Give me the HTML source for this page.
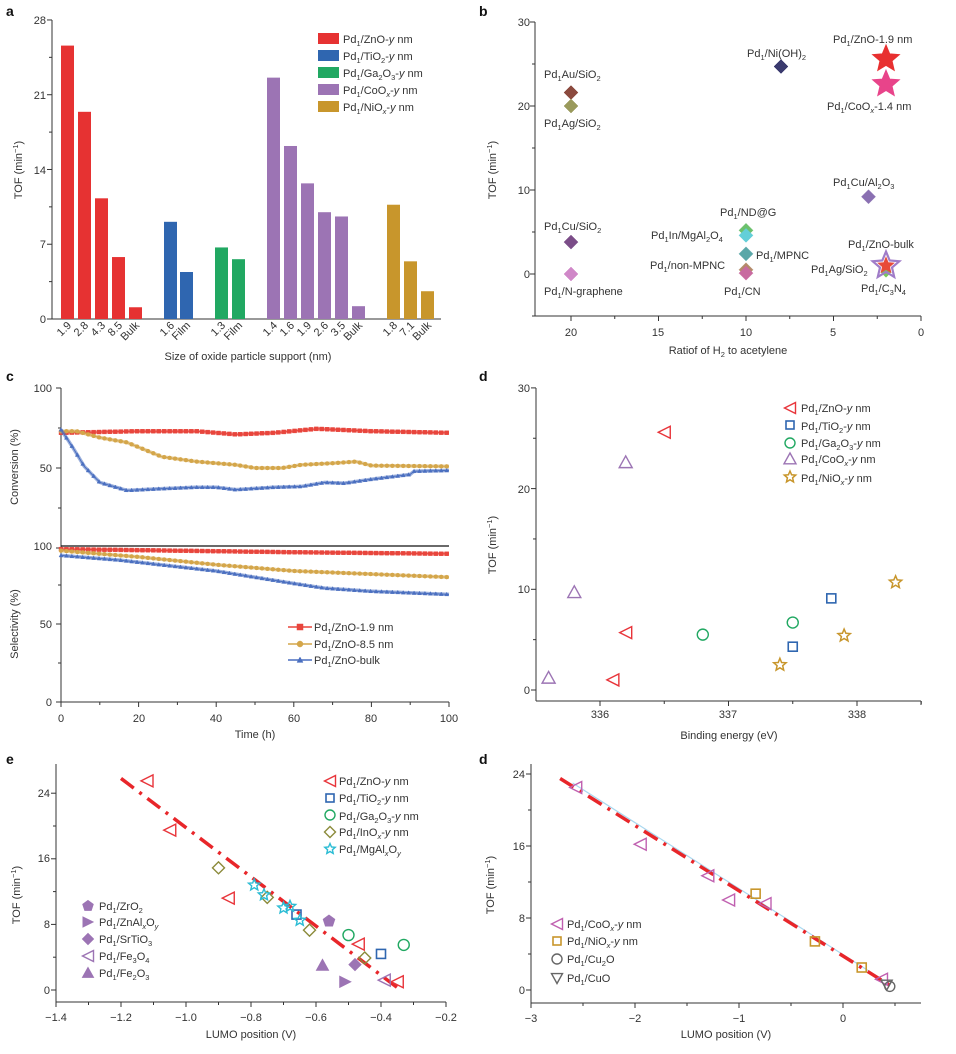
<!DOCTYPE html>
<html><head><meta charset="utf-8"><style>
html,body{margin:0;padding:0;background:#fff}
svg{display:block;font-family:"Liberation Sans",Arial,sans-serif;}
.t{font-size:11px;fill:#333}
.s{font-size:7.5px}
.L{font-size:14px;font-weight:bold;fill:#111}
.ax{stroke:#333;stroke-width:1;fill:none}
</style></head><body>
<svg id="c" width="956" height="1054" viewBox="0 0 956 1054" xmlns="http://www.w3.org/2000/svg">
<g id="g"></g>
<!-- panel letters -->
<text class="L" x="6" y="16">a</text>
<text class="L" x="479" y="16">b</text>
<text class="L" x="6" y="381">c</text>
<text class="L" x="479" y="381">d</text>
<text class="L" x="6" y="764">e</text>
<text class="L" x="479" y="764">d</text>

<!-- Panel a text -->
<g class="t" text-anchor="end">
<text x="46" y="24">28</text><text x="46" y="99">21</text><text x="46" y="174">14</text><text x="46" y="248">7</text><text x="46" y="323">0</text>
</g>
<text class="t" transform="translate(22,170) rotate(-90)" text-anchor="middle">TOF (min<tspan dy="-4" class="s">−1</tspan><tspan dy="4">)</tspan></text>
<text class="t" x="248" y="360" text-anchor="middle">Size of oxide particle support (nm)</text>
<g class="t" text-anchor="end">
<text transform="translate(72,326) rotate(-45)">1.9</text>
<text transform="translate(89,326) rotate(-45)">2.8</text>
<text transform="translate(106,326) rotate(-45)">4.3</text>
<text transform="translate(123,326) rotate(-45)">8.5</text>
<text transform="translate(140,326) rotate(-45)">Bulk</text>
<text transform="translate(175,326) rotate(-45)">1.6</text>
<text transform="translate(191,326) rotate(-45)">Film</text>
<text transform="translate(226,326) rotate(-45)">1.3</text>
<text transform="translate(243,326) rotate(-45)">Film</text>
<text transform="translate(278,326) rotate(-45)">1.4</text>
<text transform="translate(295,326) rotate(-45)">1.6</text>
<text transform="translate(312,326) rotate(-45)">1.9</text>
<text transform="translate(329,326) rotate(-45)">2.6</text>
<text transform="translate(346,326) rotate(-45)">3.5</text>
<text transform="translate(363,326) rotate(-45)">Bulk</text>
<text transform="translate(398,326) rotate(-45)">1.8</text>
<text transform="translate(415,326) rotate(-45)">7.1</text>
<text transform="translate(432,326) rotate(-45)">Bulk</text>
</g>
<g class="t">
<rect x="318" y="33" width="21" height="11" fill="#e63232"/><text x="343" y="43">Pd<tspan class="s" dy="3">1</tspan><tspan dy="-3">/ZnO-</tspan><tspan font-style="italic">y</tspan> nm</text>
<rect x="318" y="50" width="21" height="11" fill="#2f66b0"/><text x="343" y="60">Pd<tspan class="s" dy="3">1</tspan><tspan dy="-3">/TiO</tspan><tspan class="s" dy="3">2</tspan><tspan dy="-3">-</tspan><tspan font-style="italic">y</tspan> nm</text>
<rect x="318" y="67" width="21" height="11" fill="#21a862"/><text x="343" y="77">Pd<tspan class="s" dy="3">1</tspan><tspan dy="-3">/Ga</tspan><tspan class="s" dy="3">2</tspan><tspan dy="-3">O</tspan><tspan class="s" dy="3">3</tspan><tspan dy="-3">-</tspan><tspan font-style="italic">y</tspan> nm</text>
<rect x="318" y="84" width="21" height="11" fill="#9c74b4"/><text x="343" y="94">Pd<tspan class="s" dy="3">1</tspan><tspan dy="-3">/CoO</tspan><tspan class="s" dy="3" font-style="italic">x</tspan><tspan dy="-3">-</tspan><tspan font-style="italic">y</tspan> nm</text>
<rect x="318" y="101" width="21" height="11" fill="#c8962c"/><text x="343" y="111">Pd<tspan class="s" dy="3">1</tspan><tspan dy="-3">/NiO</tspan><tspan class="s" dy="3" font-style="italic">x</tspan><tspan dy="-3">-</tspan><tspan font-style="italic">y</tspan> nm</text>
</g>

<!-- Panel b text -->
<g class="t" text-anchor="end">
<text x="530" y="26">30</text><text x="530" y="110">20</text><text x="530" y="194">10</text><text x="530" y="278">0</text>
</g>
<g class="t" text-anchor="middle">
<text x="571" y="336">20</text><text x="658" y="336">15</text><text x="746" y="336">10</text><text x="833" y="336">5</text><text x="921" y="336">0</text>
<text x="728" y="354">Ratiof of H<tspan class="s" dy="3">2</tspan><tspan dy="-3"> to acetylene</tspan></text>
</g>
<text class="t" transform="translate(496,170) rotate(-90)" text-anchor="middle">TOF (min<tspan dy="-4" class="s">−1</tspan><tspan dy="4">)</tspan></text>
<g class="t">
<text x="833" y="43">Pd<tspan class="s" dy="3">1</tspan><tspan dy="-3">/ZnO-1.9 nm</tspan></text>
<text x="747" y="57">Pd<tspan class="s" dy="3">1</tspan><tspan dy="-3">/Ni(OH)</tspan><tspan class="s" dy="3">2</tspan></text>
<text x="544" y="78">Pd<tspan class="s" dy="3">1</tspan><tspan dy="-3">Au/SiO</tspan><tspan class="s" dy="3">2</tspan></text>
<text x="544" y="127">Pd<tspan class="s" dy="3">1</tspan><tspan dy="-3">Ag/SiO</tspan><tspan class="s" dy="3">2</tspan></text>
<text x="827" y="110">Pd<tspan class="s" dy="3">1</tspan><tspan dy="-3">/CoO</tspan><tspan class="s" dy="3" font-style="italic">x</tspan><tspan dy="-3">-1.4 nm</tspan></text>
<text x="833" y="186">Pd<tspan class="s" dy="3">1</tspan><tspan dy="-3">Cu/Al</tspan><tspan class="s" dy="3">2</tspan><tspan dy="-3">O</tspan><tspan class="s" dy="3">3</tspan></text>
<text x="720" y="216">Pd<tspan class="s" dy="3">1</tspan><tspan dy="-3">/ND@G</tspan></text>
<text x="544" y="230">Pd<tspan class="s" dy="3">1</tspan><tspan dy="-3">Cu/SiO</tspan><tspan class="s" dy="3">2</tspan></text>
<text x="651" y="239">Pd<tspan class="s" dy="3">1</tspan><tspan dy="-3">In/MgAl</tspan><tspan class="s" dy="3">2</tspan><tspan dy="-3">O</tspan><tspan class="s" dy="3">4</tspan></text>
<text x="756" y="259">Pd<tspan class="s" dy="3">1</tspan><tspan dy="-3">/MPNC</tspan></text>
<text x="650" y="269">Pd<tspan class="s" dy="3">1</tspan><tspan dy="-3">/non-MPNC</tspan></text>
<text x="848" y="248">Pd<tspan class="s" dy="3">1</tspan><tspan dy="-3">/ZnO-bulk</tspan></text>
<text x="811" y="273">Pd<tspan class="s" dy="3">1</tspan><tspan dy="-3">Ag/SiO</tspan><tspan class="s" dy="3">2</tspan></text>
<text x="544" y="295">Pd<tspan class="s" dy="3">1</tspan><tspan dy="-3">/N-graphene</tspan></text>
<text x="724" y="295">Pd<tspan class="s" dy="3">1</tspan><tspan dy="-3">/CN</tspan></text>
<text x="861" y="292">Pd<tspan class="s" dy="3">1</tspan><tspan dy="-3">/C</tspan><tspan class="s" dy="3">3</tspan><tspan dy="-3">N</tspan><tspan class="s" dy="3">4</tspan></text>
</g>

<!-- Panel c text -->
<g class="t" text-anchor="end">
<text x="52" y="392">100</text><text x="52" y="472">50</text><text x="52" y="550">100</text><text x="52" y="628">50</text><text x="52" y="706">0</text>
</g>
<g class="t" text-anchor="middle">
<text x="61" y="722">0</text><text x="139" y="722">20</text><text x="216" y="722">40</text><text x="294" y="722">60</text><text x="371" y="722">80</text><text x="449" y="722">100</text>
<text x="255" y="738">Time (h)</text>
</g>
<text class="t" transform="translate(18,467) rotate(-90)" text-anchor="middle">Conversion (%)</text>
<text class="t" transform="translate(18,624) rotate(-90)" text-anchor="middle">Selectivity (%)</text>
<g class="t">
<text x="314" y="631">Pd<tspan class="s" dy="3">1</tspan><tspan dy="-3">/ZnO-1.9 nm</tspan></text>
<text x="314" y="648">Pd<tspan class="s" dy="3">1</tspan><tspan dy="-3">/ZnO-8.5 nm</tspan></text>
<text x="314" y="664">Pd<tspan class="s" dy="3">1</tspan><tspan dy="-3">/ZnO-bulk</tspan></text>
</g>

<!-- Panel d (top) text -->
<g class="t" text-anchor="end">
<text x="530" y="392">30</text><text x="530" y="493">20</text><text x="530" y="593">10</text><text x="530" y="694">0</text>
</g>
<g class="t" text-anchor="middle">
<text x="600" y="718">336</text><text x="728" y="718">337</text><text x="857" y="718">338</text>
<text x="729" y="739">Binding energy (eV)</text>
</g>
<text class="t" transform="translate(496,545) rotate(-90)" text-anchor="middle">TOF (min<tspan dy="-4" class="s">−1</tspan><tspan dy="4">)</tspan></text>
<g class="t">
<text x="801" y="412">Pd<tspan class="s" dy="3">1</tspan><tspan dy="-3">/ZnO-</tspan><tspan font-style="italic">y</tspan> nm</text>
<text x="801" y="430">Pd<tspan class="s" dy="3">1</tspan><tspan dy="-3">/TiO</tspan><tspan class="s" dy="3">2</tspan><tspan dy="-3">-</tspan><tspan font-style="italic">y</tspan> nm</text>
<text x="801" y="447">Pd<tspan class="s" dy="3">1</tspan><tspan dy="-3">/Ga</tspan><tspan class="s" dy="3">2</tspan><tspan dy="-3">O</tspan><tspan class="s" dy="3">3</tspan><tspan dy="-3">-</tspan><tspan font-style="italic">y</tspan> nm</text>
<text x="801" y="463">Pd<tspan class="s" dy="3">1</tspan><tspan dy="-3">/CoO</tspan><tspan class="s" dy="3" font-style="italic">x</tspan><tspan dy="-3">-</tspan><tspan font-style="italic">y</tspan> nm</text>
<text x="801" y="482">Pd<tspan class="s" dy="3">1</tspan><tspan dy="-3">/NiO</tspan><tspan class="s" dy="3" font-style="italic">x</tspan><tspan dy="-3">-</tspan><tspan font-style="italic">y</tspan> nm</text>
</g>

<!-- Panel e text -->
<g class="t" text-anchor="end">
<text x="50" y="797">24</text><text x="50" y="862">16</text><text x="50" y="928">8</text><text x="50" y="994">0</text>
</g>
<g class="t" text-anchor="middle">
<text x="56" y="1021">−1.4</text><text x="121" y="1021">−1.2</text><text x="186" y="1021">−1.0</text><text x="251" y="1021">−0.8</text><text x="316" y="1021">−0.6</text><text x="381" y="1021">−0.4</text><text x="446" y="1021">−0.2</text>
<text x="251" y="1038">LUMO position (V)</text>
</g>
<text class="t" transform="translate(20,895) rotate(-90)" text-anchor="middle">TOF (min<tspan dy="-4" class="s">−1</tspan><tspan dy="4">)</tspan></text>
<g class="t">
<text x="339" y="785">Pd<tspan class="s" dy="3">1</tspan><tspan dy="-3">/ZnO-</tspan><tspan font-style="italic">y</tspan> nm</text>
<text x="339" y="802">Pd<tspan class="s" dy="3">1</tspan><tspan dy="-3">/TiO</tspan><tspan class="s" dy="3">2</tspan><tspan dy="-3">-</tspan><tspan font-style="italic">y</tspan> nm</text>
<text x="339" y="820">Pd<tspan class="s" dy="3">1</tspan><tspan dy="-3">/Ga</tspan><tspan class="s" dy="3">2</tspan><tspan dy="-3">O</tspan><tspan class="s" dy="3">3</tspan><tspan dy="-3">-</tspan><tspan font-style="italic">y</tspan> nm</text>
<text x="339" y="836">Pd<tspan class="s" dy="3">1</tspan><tspan dy="-3">/InO</tspan><tspan class="s" dy="3" font-style="italic">x</tspan><tspan dy="-3">-</tspan><tspan font-style="italic">y</tspan> nm</text>
<text x="339" y="853">Pd<tspan class="s" dy="3">1</tspan><tspan dy="-3">/MgAl</tspan><tspan class="s" dy="3" font-style="italic">x</tspan><tspan dy="-3">O</tspan><tspan class="s" dy="3" font-style="italic">y</tspan></text>
<text x="99" y="910">Pd<tspan class="s" dy="3">1</tspan><tspan dy="-3">/ZrO</tspan><tspan class="s" dy="3">2</tspan></text>
<text x="99" y="926">Pd<tspan class="s" dy="3">1</tspan><tspan dy="-3">/ZnAl</tspan><tspan class="s" dy="3" font-style="italic">x</tspan><tspan dy="-3">O</tspan><tspan class="s" dy="3" font-style="italic">y</tspan></text>
<text x="99" y="943">Pd<tspan class="s" dy="3">1</tspan><tspan dy="-3">/SrTiO</tspan><tspan class="s" dy="3">3</tspan></text>
<text x="99" y="960">Pd<tspan class="s" dy="3">1</tspan><tspan dy="-3">/Fe</tspan><tspan class="s" dy="3">3</tspan><tspan dy="-3">O</tspan><tspan class="s" dy="3">4</tspan></text>
<text x="99" y="977">Pd<tspan class="s" dy="3">1</tspan><tspan dy="-3">/Fe</tspan><tspan class="s" dy="3">2</tspan><tspan dy="-3">O</tspan><tspan class="s" dy="3">3</tspan></text>
</g>

<!-- Panel f text -->
<g class="t" text-anchor="end">
<text x="525" y="778">24</text><text x="525" y="850">16</text><text x="525" y="922">8</text><text x="525" y="994">0</text>
</g>
<g class="t" text-anchor="middle">
<text x="531" y="1022">−3</text><text x="635" y="1022">−2</text><text x="739" y="1022">−1</text><text x="843" y="1022">0</text>
<text x="726" y="1038">LUMO position (V)</text>
</g>
<text class="t" transform="translate(494,885) rotate(-90)" text-anchor="middle">TOF (min<tspan dy="-4" class="s">−1</tspan><tspan dy="4">)</tspan></text>
<g class="t">
<text x="567" y="928">Pd<tspan class="s" dy="3">1</tspan><tspan dy="-3">/CoO</tspan><tspan class="s" dy="3" font-style="italic">x</tspan><tspan dy="-3">-</tspan><tspan font-style="italic">y</tspan> nm</text>
<text x="567" y="945">Pd<tspan class="s" dy="3">1</tspan><tspan dy="-3">/NiO</tspan><tspan class="s" dy="3" font-style="italic">x</tspan><tspan dy="-3">-</tspan><tspan font-style="italic">y</tspan> nm</text>
<text x="567" y="963">Pd<tspan class="s" dy="3">1</tspan><tspan dy="-3">/Cu</tspan><tspan class="s" dy="3">2</tspan><tspan dy="-3">O</tspan></text>
<text x="567" y="982">Pd<tspan class="s" dy="3">1</tspan><tspan dy="-3">/CuO</tspan></text>
</g>
</svg>
<script>
(function(){
var g=document.getElementById('g'),h='';
function line(x1,y1,x2,y2,st,w,extra){h+='<line x1="'+x1+'" y1="'+y1+'" x2="'+x2+'" y2="'+y2+'" stroke="'+(st||'#333')+'" stroke-width="'+(w||1)+'" '+(extra||'')+'/>';}
function poly(pts,st,w,extra){h+='<polyline points="'+pts.map(function(p){return p[0].toFixed(1)+','+p[1].toFixed(1)}).join(' ')+'" fill="none" stroke="'+st+'" stroke-width="'+w+'" '+(extra||'')+'/>';}
function star(x,y,r,ri){var p=[];for(var i=0;i<10;i++){var a=-Math.PI/2+i*Math.PI/5,rr=i%2?ri:r;p.push((x+rr*Math.cos(a)).toFixed(1)+','+(y+rr*Math.sin(a)).toFixed(1));}return p.join(' ');}
function mk(t,x,y,s,st,fill,w){w=w||1.3;fill=fill||'none';var a='stroke="'+st+'" stroke-width="'+w+'" fill="'+fill+'"';
 if(t=='sq')h+='<rect x="'+(x-s)+'" y="'+(y-s)+'" width="'+2*s+'" height="'+2*s+'" '+a+'/>';
 else if(t=='c')h+='<circle cx="'+x+'" cy="'+y+'" r="'+s+'" '+a+'/>';
 else if(t=='lt')h+='<polygon points="'+(x-s)+','+y+' '+(x+s)+','+(y-s)+' '+(x+s)+','+(y+s)+'" '+a+'/>';
 else if(t=='rt')h+='<polygon points="'+(x+s)+','+y+' '+(x-s)+','+(y-s)+' '+(x-s)+','+(y+s)+'" '+a+'/>';
 else if(t=='ut')h+='<polygon points="'+x+','+(y-s)+' '+(x-s)+','+(y+s*0.8)+' '+(x+s)+','+(y+s*0.8)+'" '+a+'/>';
 else if(t=='dt')h+='<polygon points="'+x+','+(y+s)+' '+(x-s)+','+(y-s*0.8)+' '+(x+s)+','+(y-s*0.8)+'" '+a+'/>';
 else if(t=='d')h+='<polygon points="'+x+','+(y-s)+' '+(x+s)+','+y+' '+x+','+(y+s)+' '+(x-s)+','+y+'" '+a+'/>';
 else if(t=='st')h+='<polygon points="'+star(x,y,s,s*0.45)+'" '+a+'/>';
 else if(t=='p'){var p=[];for(var i=0;i<5;i++){var an=-Math.PI/2+i*2*Math.PI/5;p.push((x+s*Math.cos(an)).toFixed(1)+','+(y+s*Math.sin(an)).toFixed(1));}h+='<polygon points="'+p.join(' ')+'" '+a+'/>';}
}
// ---------- Panel a ----------
var ya=function(v){return 319-v*10.68;};
line(52,20,52,319);line(52,319,441,319);
for(var v=0;v<=28;v+=3.5){line(52,ya(v),v%7==0?47:49,ya(v));}
var bars=[[61,25.6,'#e63232'],[78,19.4,'#e63232'],[95,11.3,'#e63232'],[112,5.8,'#e63232'],[129,1.1,'#e63232'],
[164,9.1,'#2f66b0'],[180,4.4,'#2f66b0'],[215,6.7,'#21a862'],[232,5.6,'#21a862'],
[267,22.6,'#9c74b4'],[284,16.2,'#9c74b4'],[301,12.7,'#9c74b4'],[318,10.0,'#9c74b4'],[335,9.6,'#9c74b4'],[352,1.2,'#9c74b4'],
[387,10.7,'#c8962c'],[404,5.4,'#c8962c'],[421,2.6,'#c8962c']];
bars.forEach(function(b){h+='<rect x="'+b[0]+'" y="'+ya(b[1])+'" width="13" height="'+(319-ya(b[1]))+'" fill="'+b[2]+'"/>';});
// ---------- Panel b ----------
var xb=function(r){return 921-17.5*r;},yb=function(v){return 274-8.4*v;};
line(535,22,535,316);line(533,316,921,316);
for(var v=-5;v<=30;v+=5){line(535,yb(v),v%10==0?530:532,yb(v));}
for(var r=0;r<=22;r+=2.5){if(xb(r)>=535)line(xb(r),316,xb(r),r%5==0?321:319);}
function dia(r,v,c,s){mk('d',xb(r),yb(v),s||7,c,c,0.5);}
dia(8,24.7,'#3a3a6e');dia(20,21.6,'#8b4a3e');dia(20,20,'#9a9a5c');dia(3,9.2,'#8a70b2');dia(20,3.8,'#7b4d88');dia(20,0,'#d088c8');
dia(10,5.2,'#6cc16c');dia(10,4.6,'#63cfd8');dia(10,2.4,'#5aa7a8');dia(10,0.5,'#b48a6a');dia(10,0.1,'#c86aa0');
dia(2,0.2,'#7cc85a',5);
mk('st',xb(2),yb(1),14,'#a07cc8','none',2.2);mk('st',xb(2),yb(1),8,'#e84a3a','#e84a3a',1);
mk('st',xb(2),yb(25.6),14,'#e83030','#e83030',1);mk('st',xb(2),yb(22.6),14,'#e8448a','#e8448a',1);
// ---------- Panel c ----------
var xc=function(t){return 61+3.88*t;},yc1=function(v){return 548-1.6*v;},yc2=function(v){return 702-1.56*v;};
line(61,388,61,702);line(61,702,449,702);line(61,546,449,546,'#111',1.2);
[0,25,50,75,100].forEach(function(v){line(61,yc1(v),v%50==0?56:58,yc1(v));});
[0,25,50,75].forEach(function(v){line(61,yc2(v),v%50==0?56:58,yc2(v));});
for(var t=0;t<=100;t+=10)line(xc(t),702,xc(t),t%20==0?707:705);
function interp(k,t){for(var i=0;i<k.length-1;i++){if(t<=k[i+1][0]){var f=(t-k[i][0])/(k[i+1][0]-k[i][0]);return k[i][1]+f*(k[i+1][1]-k[i][1]);}}return k[k.length-1][1];}
var S=[
 {c:'#e8453c',m:'sq',k:[[0,72],[20,73],[35,73],[45,71],[55,72],[66,74.5],[80,73],[100,72]],k2:[[0,98],[30,97],[60,96],[100,95]]},
 {c:'#d4a64a',m:'c',k:[[0,73],[4,73],[10,69],[17,66],[22,61],[26,57],[35,54],[45,52],[50,50],[57,50],[62,52],[70,53],[76,54],[80,51.5],[100,51]],k2:[[0,97],[20,93],[40,88],[60,84],[80,82],[100,80]]},
 {c:'#4a6fc0',m:'ut',k:[[0,74],[3,63],[6,51],[10,41],[17,36],[25,37],[35,38],[40,38],[45,36.5],[55,38],[62,38.5],[68,41],[73,40.5],[80,43],[90,46],[91,48],[100,48.5]],k2:[[0,94],[15,91],[40,84],[60,76],[68,73],[80,71],[100,69]]}];
S.forEach(function(s){
 var p1=[],p2=[];for(var t=0;t<=100;t+=0.5){p1.push([xc(t),yc1(interp(s.k,t))]);p2.push([xc(t),yc2(interp(s.k2,t))]);}
 poly(p1,s.c,3.5,'opacity="0.55"');poly(p2,s.c,3.5,'opacity="0.55"');poly(p1,s.c,1);poly(p2,s.c,1);
 for(var t=0;t<=100;t+=1.4){mk(s.m,xc(t),yc1(interp(s.k,t)),2,s.c,s.c,0.4);mk(s.m,xc(t),yc2(interp(s.k2,t)),2,s.c,s.c,0.4);}
});
[[627,'#e8453c','sq'],[644,'#d4a64a','c'],[660,'#4a6fc0','ut']].forEach(function(l){line(288,l[0],312,l[0],l[1],1.5);mk(l[2],300,l[0],3,l[1],l[1],0.5);});
// ---------- Panel d top ----------
var xd=function(e){return 600+(e-336)*128.5;},yd=function(v){return 690-10.07*v;};
line(536,388,536,701);line(536,701,921,701);
for(var v=0;v<=30;v+=5)line(536,yd(v),v%10==0?531:533,yd(v));
for(var e=335.5;e<=338.51;e+=0.5)if(xd(e)>=536)line(xd(e),701,xd(e),701+(Math.abs(e-Math.round(e))<0.01?5:3));
line(921,701,921,705);
var R='#e8343a',B='#2f66b0',G='#21a862',P='#9c74b4',O='#c8962c';
[[336.5,25.6],[336.2,5.7],[336.1,1.0]].forEach(function(p){mk('lt',xd(p[0]),yd(p[1]),6,R,'none',1.4);});
[[336.2,22.6],[335.8,9.7],[335.6,1.2]].forEach(function(p){mk('ut',xd(p[0]),yd(p[1]),6.5,P,'none',1.4);});
[[337.8,9.1],[337.5,4.3]].forEach(function(p){mk('sq',xd(p[0]),yd(p[1]),4.5,B,'none',1.6);});
[[336.8,5.5],[337.5,6.7]].forEach(function(p){mk('c',xd(p[0]),yd(p[1]),5.5,G,'none',1.4);});
[[338.3,10.7],[337.9,5.4],[337.4,2.5]].forEach(function(p){mk('st',xd(p[0]),yd(p[1]),6.5,O,'none',1.5);});
mk('lt',790,408,5.5,R,'none',1.4);mk('sq',790,425,4,B,'none',1.6);mk('c',790,443,5,G,'none',1.4);mk('ut',790,459,6,P,'none',1.4);mk('st',790,477,6,O,'none',1.5);
// ---------- Panel e ----------
var xe=function(v){return 56+(v+1.4)*325;},ye=function(v){return 990-8.2*v;};
line(56,764,56,1002);line(56,1002,446,1002);
for(var v=0;v<=28;v+=4)if(ye(v)>=764)line(56,ye(v),v%8==0?51:53,ye(v));
for(var v=-1.4;v<=-0.19;v+=0.1)line(xe(v),1002,xe(v),1002+(Math.round(v*10)%2==0?5:3));
line(xe(-1.2),ye(25.8),xe(-0.34),ye(0),'#e8262a',3.5,'stroke-dasharray="16,7,3,7"');
var pe='#9c74b4',Y='#8b8a3a',C='#2bbcd4';
[[-1.12,25.5],[-1.05,19.5],[-0.87,11.2],[-0.47,5.6],[-0.35,1.0]].forEach(function(p){mk('lt',xe(p[0]),ye(p[1]),6,R,'none',1.4);});
[[-0.66,9.2],[-0.40,4.4]].forEach(function(p){mk('sq',xe(p[0]),ye(p[1]),4.5,B,'none',1.6);});
[[-0.50,6.7],[-0.33,5.5]].forEach(function(p){mk('c',xe(p[0]),ye(p[1]),5.5,G,'none',1.4);});
[[-0.90,14.9],[-0.75,11.3],[-0.62,7.3],[-0.45,3.9]].forEach(function(p){mk('d',xe(p[0]),ye(p[1]),6,Y,'none',1.4);});
[[-0.79,12.8],[-0.76,11.6],[-0.70,10.0],[-0.68,10.2],[-0.65,8.5]].forEach(function(p){mk('st',xe(p[0]),ye(p[1]),6,C,'none',1.4);});
mk('p',xe(-0.56),ye(8.4),6,pe,pe,1);mk('rt',xe(-0.51),ye(1.0),5.5,pe,pe,1);mk('d',xe(-0.48),ye(3.1),6,pe,pe,1);mk('lt',xe(-0.39),ye(1.2),6,pe,'none',1.4);mk('ut',xe(-0.58),ye(3.0),6,pe,pe,1);
mk('lt',330,781,5.5,R,'none',1.4);mk('sq',330,798,4,B,'none',1.6);mk('c',330,815,5,G,'none',1.4);mk('d',330,832,5.5,Y,'none',1.4);mk('st',330,849,5.5,C,'none',1.4);
mk('p',88,906,5.5,pe,pe,1);mk('rt',88,922,5,pe,pe,1);mk('d',88,939,5.5,pe,pe,1);mk('lt',88,956,5.5,pe,'none',1.4);mk('ut',88,973,5.5,pe,pe,1);
// ---------- Panel f ----------
var xf=function(v){return 843+104*v;},yf=function(v){return 990-9*v;};
line(531,764,531,1003);line(531,1003,921,1003);
for(var v=0;v<=24;v+=4)line(531,yf(v),v%8==0?526:528,yf(v));
for(var v=-3;v<=0.51;v+=0.5)line(xf(v),1003,xf(v),1003+(Math.abs(v-Math.round(v))<0.01?5:3));
line(xf(-2.6),yf(23),xf(0.4),yf(1),'#a8d8f0',1.2);
line(xf(-2.72),yf(23.5),xf(0.48),yf(0.3),'#e8262a',3.5,'stroke-dasharray="16,7,3,7"');
var M='#c060b0',Gy='#666';
[[-2.57,22.5],[-1.95,16.2],[-1.3,12.7],[-1.1,10.0],[-0.75,9.6],[0.37,1.2]].forEach(function(p){mk('lt',xf(p[0]),yf(p[1]),6,M,'none',1.4);});
[[-0.84,10.7],[-0.27,5.4],[0.18,2.5]].forEach(function(p){mk('sq',xf(p[0]),yf(p[1]),4.5,O,'none',1.6);});
mk('c',xf(0.45),yf(0.4),5,Gy,'none',1.4);mk('dt',xf(0.42),yf(0.6),5.5,Gy,'none',1.4);
mk('lt',557,924,5.5,M,'none',1.4);mk('sq',557,941,4,O,'none',1.6);mk('c',557,959,5,Gy,'none',1.4);mk('dt',557,978,5.5,Gy,'none',1.4);
g.innerHTML=h;
})();
</script>
</body></html>
